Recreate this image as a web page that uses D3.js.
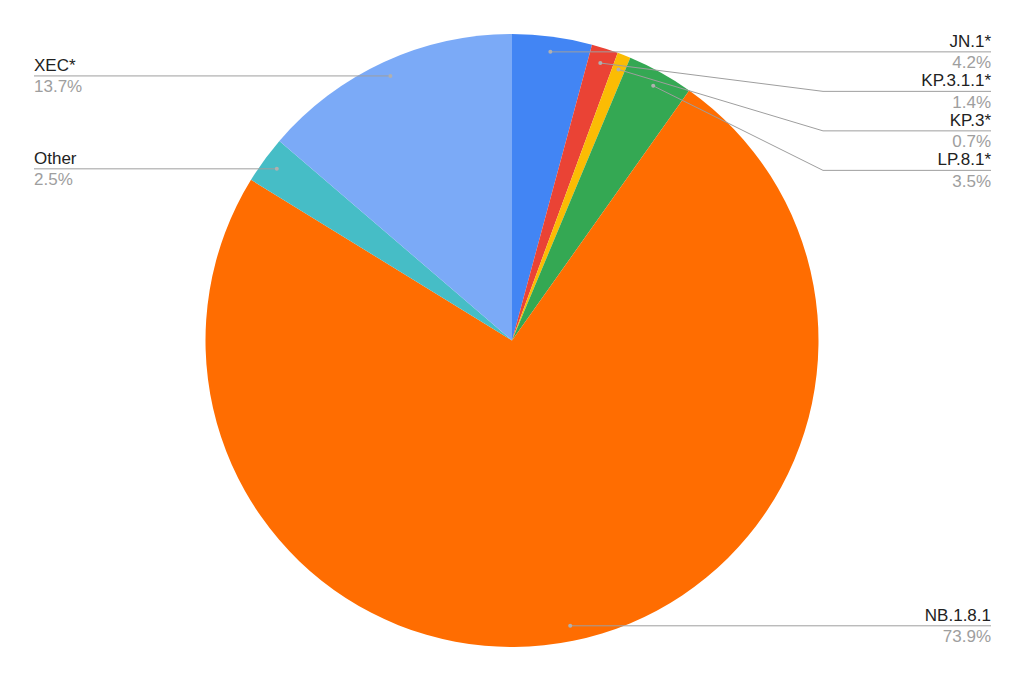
<!DOCTYPE html>
<html>
<head>
<meta charset="utf-8">
<script src="https://cdn.jsdelivr.net/npm/d3@7/dist/d3.min.js"></script>
<style>
  html, body { margin: 0; padding: 0; background: #fff; }
  svg { display: block; }
  text { font-family: "Liberation Sans", Arial, sans-serif; }
</style>
</head>
<body>
<svg id="chart" width="1024" height="681"></svg>
<script>
const categories = ["JN.1*", "KP.3.1.1*", "KP.3*", "LP.8.1*", "NB.1.8.1", "Other", "XEC*"];
const values = [4.2, 1.4, 0.7, 3.5, 73.9, 2.5, 13.7];
const percentLabels = ["4.2%", "1.4%", "0.7%", "3.5%", "73.9%", "2.5%", "13.7%"];
const colors = ["#4285f4", "#ea4335", "#fbbc04", "#34a853", "#ff6d01", "#46bdc6", "#7baaf7"];

const W = 1024, H = 681;
const cx = 512, cy = 340.5, R = 306.5;
const svg = d3.select("#chart");
const g = svg.append("g").attr("transform", `translate(${cx},${cy})`);

const data = categories.map((c, i) => ({ name: c, value: values[i], pct: percentLabels[i], color: colors[i] }));

const pie = d3.pie().value(d => d.value).sort(null);
const arcs = pie(data);
const arc = d3.arc().innerRadius(0).outerRadius(R);

g.selectAll("path.slice").data(arcs).enter().append("path")
  .attr("class", "slice")
  .attr("d", arc)
  .attr("fill", d => d.data.color);

// label layout
const dotR = R * 0.95;
const dotArc = d3.arc().innerRadius(dotR).outerRadius(dotR);
const rightX = 991, leftX = 34, elbowRight = 823, elbowLeft = 200;
const spacing = 39.5;

const items = arcs.map(a => {
  const [x, y] = dotArc.centroid(a);
  return { a, dx: cx + x, dy: cy + y, right: x >= 0 };
});
function layout(list) {
  list.sort((p, q) => p.dy - q.dy);
  let prev = -Infinity;
  list.forEach(it => { it.ly = Math.max(it.dy, prev + spacing); prev = it.ly; });
}
layout(items.filter(d => d.right));
layout(items.filter(d => !d.right));

const lab = svg.append("g");
items.forEach(it => {
  const endX = it.right ? rightX : leftX;
  const elbowX = it.right ? elbowRight : elbowLeft;
  let pts;
  if (Math.abs(it.ly - it.dy) < 3) pts = [[it.dx, it.dy], [endX, it.ly]];
  else pts = [[it.dx, it.dy], [elbowX, it.ly], [endX, it.ly]];
  lab.append("path")
    .attr("d", d3.line()(pts))
    .attr("fill", "none")
    .attr("stroke", "#9e9e9e")
    .attr("stroke-width", 1);
  lab.append("circle")
    .attr("cx", it.dx).attr("cy", it.dy).attr("r", 2)
    .attr("fill", "#b0b0b0");
  const anchor = it.right ? "end" : "start";
  lab.append("text")
    .attr("x", endX).attr("y", it.ly - 5)
    .attr("text-anchor", anchor)
    .attr("font-size", 17)
    .attr("fill", "#222")
    .text(it.a.data.name);
  lab.append("text")
    .attr("x", endX).attr("y", it.ly + 16.5)
    .attr("text-anchor", anchor)
    .attr("font-size", 17)
    .attr("fill", "#9e9e9e")
    .text(it.a.data.pct);
});
</script>
</body>
</html>
